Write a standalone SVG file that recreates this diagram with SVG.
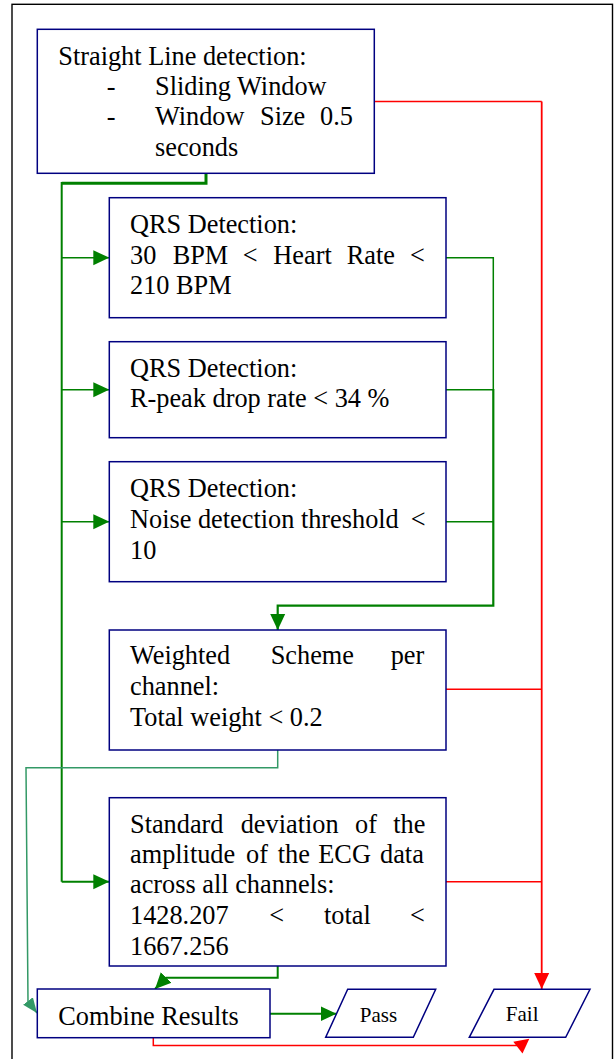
<svg xmlns="http://www.w3.org/2000/svg" width="615" height="1059" viewBox="0 0 615 1059">
  <style>
    .frame { fill: none; stroke: #000; stroke-width: 1.4; }
    .box { fill: #fff; stroke: #000080; stroke-width: 1.5; }
    .t { font-family: "Liberation Serif", "Times New Roman", serif; font-size: 26.3px; fill: #000; }
    .s { font-family: "Liberation Serif", "Times New Roman", serif; font-size: 21px; fill: #000; text-anchor: middle; }
    .g { fill: none; stroke: #008000; }
    .r { fill: none; stroke: #ff0000; }
    .c { fill: none; stroke: #339966; stroke-width: 1.5; }
  </style>
  <defs>
    <marker id="arrowGreen" markerUnits="userSpaceOnUse" viewBox="0 0 16 16" markerWidth="16" markerHeight="16" refX="16" refY="8" orient="auto">
      <path d="M0,0.5 L16,8 L0,15.5 Z" fill="#008000"/>
    </marker>
    <marker id="arrowRed" markerUnits="userSpaceOnUse" viewBox="0 0 16 16" markerWidth="16" markerHeight="16" refX="16" refY="8" orient="auto">
      <path d="M0,0.5 L16,8 L0,15.5 Z" fill="#ff0000"/>
    </marker>
    <marker id="arrowTeal" markerUnits="userSpaceOnUse" viewBox="0 0 16 16" markerWidth="15" markerHeight="15" refX="16" refY="8" orient="auto">
      <path d="M0,1.5 L16,8 L0,14.5 Z" fill="#339966"/>
    </marker>
  </defs>

  <rect width="615" height="1059" fill="#fff"/>
  <!-- outer frame (open at the bottom edge of the page) -->
  <rect class="frame" x="12" y="4.3" width="600.5" height="1100"/>

  <!-- connectors -->
  <g id="connectors">
    <!-- green pass path: straight line check feeds every test -->
    <path class="g" stroke-width="3" d="M206,173.3 V183.3 H61.7"/>
    <path class="g" stroke-width="2" d="M61.7,182 V881.7"/>
    <path class="g" stroke-width="1.5" d="M61.7,257.7 H109.3" marker-end="url(#arrowGreen)"/>
    <path class="g" stroke-width="1.5" d="M61.7,389.7 H109.3" marker-end="url(#arrowGreen)"/>
    <path class="g" stroke-width="1.5" d="M61.7,521.7 H109.3" marker-end="url(#arrowGreen)"/>
    <path class="g" stroke-width="2" d="M61.7,881.7 H109.3" marker-end="url(#arrowGreen)"/>

    <!-- QRS results merge into the weighted scheme -->
    <path class="g" stroke-width="1.5" d="M446,257.7 H493.3 V389.7"/>
    <path class="g" stroke-width="1.5" d="M446,389.7 H493.3"/>
    <path class="g" stroke-width="1.5" d="M446,521.7 H493.3"/>
    <path class="g" stroke-width="2.2" d="M493.3,389 V605.7 H277.7 V630" marker-end="url(#arrowGreen)"/>

    <!-- results into Combine Results -->
    <path class="c" d="M277.7,750 V767.7 H26 L28,1001 L37,1013" marker-end="url(#arrowTeal)"/>
    <path class="g" stroke-width="2" d="M277.7,966 V977.7 H166 L155,989" marker-end="url(#arrowGreen)"/>
    <path class="g" stroke-width="2" d="M270,1013.7 H336.5" marker-end="url(#arrowGreen)"/>

    <!-- red fail path -->
    <path class="r" stroke-width="1.5" d="M374.3,101.4 H541.7"/>
    <path class="r" stroke-width="1.8" d="M541.7,101.4 V989" marker-end="url(#arrowRed)"/>
    <path class="r" stroke-width="1.5" d="M446,689.3 H541.7"/>
    <path class="r" stroke-width="1.5" d="M446,881.7 H541.7"/>
    <path class="r" stroke-width="1.5" d="M153.3,1037.7 V1045.5 H521"/>
    <polygon points="513.3,1041.7 529.3,1038.8 522.5,1053.5" fill="#ff0000"/>
  </g>

  <g id="straight-line">
    <rect class="box" x="37.3" y="29.3" width="337" height="144"/>
    <text class="t" x="58.3" y="65">Straight Line detection:</text>
    <text class="t" x="106.7" y="95">-</text>
    <text class="t" x="155" y="95">Sliding Window</text>
    <text class="t" x="106.7" y="125">-</text>
    <text class="t" y="125"><tspan x="155">Window</tspan><tspan x="260">Size</tspan><tspan x="320">0.5</tspan></text>
    <text class="t" x="155" y="156">seconds</text>
  </g>

  <g id="qrs-heart-rate">
    <rect class="box" x="109.3" y="197.7" width="336.7" height="120"/>
    <text class="t" x="130" y="233.3">QRS Detection:</text>
    <text class="t" y="264.3"><tspan x="130">30</tspan><tspan x="172.7">BPM</tspan><tspan x="242.7">&lt;</tspan><tspan x="273.3">Heart</tspan><tspan x="346.7">Rate</tspan><tspan x="410">&lt;</tspan></text>
    <text class="t" x="130" y="294.3">210 BPM</text>
  </g>

  <g id="qrs-rpeak">
    <rect class="box" x="109.3" y="341.7" width="336.7" height="96"/>
    <text class="t" x="130" y="376.7">QRS Detection:</text>
    <text class="t" x="130" y="407.3">R-peak drop rate &lt; 34 %</text>
  </g>

  <g id="qrs-noise">
    <rect class="box" x="109.3" y="461.7" width="336.7" height="120"/>
    <text class="t" x="130" y="496.7">QRS Detection:</text>
    <text class="t" y="528.3"><tspan x="130">Noise detection threshold</tspan><tspan x="410.7">&lt;</tspan></text>
    <text class="t" x="130" y="559">10</text>
  </g>

  <g id="weighted-scheme">
    <rect class="box" x="109.3" y="630" width="336.7" height="120"/>
    <text class="t" y="664"><tspan x="130">Weighted</tspan><tspan x="270.7">Scheme</tspan><tspan x="390.7">per</tspan></text>
    <text class="t" x="130" y="695">channel:</text>
    <text class="t" x="130" y="726">Total weight &lt; 0.2</text>
  </g>

  <g id="std-deviation">
    <rect class="box" x="109.3" y="797.7" width="336.7" height="168.3"/>
    <text class="t" y="832.7"><tspan x="130">Standard</tspan><tspan x="240.7">deviation</tspan><tspan x="355">of</tspan><tspan x="393.3">the</tspan></text>
    <text class="t" y="863.3"><tspan x="130">amplitude</tspan><tspan x="246">of</tspan><tspan x="277.7">the</tspan><tspan x="318.3">ECG</tspan><tspan x="380">data</tspan></text>
    <text class="t" x="130" y="893.3">across all channels:</text>
    <text class="t" y="924.3"><tspan x="130">1428.207</tspan><tspan x="269.3">&lt;</tspan><tspan x="324">total</tspan><tspan x="410">&lt;</tspan></text>
    <text class="t" x="130" y="955">1667.256</text>
  </g>

  <g id="combine-results">
    <rect class="box" x="37.3" y="989" width="232.7" height="48.7"/>
    <text class="t" x="58.3" y="1025">Combine Results</text>
  </g>

  <g id="pass">
    <polygon class="box" points="347.7,989.3 435.7,989.3 413.3,1037.3 325.7,1037.3"/>
    <text class="s" x="378.5" y="1021.7">Pass</text>
  </g>

  <g id="fail">
    <polygon class="box" points="494,989.3 590,989.3 565.7,1037.3 469.3,1037.3"/>
    <text class="s" x="522.2" y="1020.7">Fail</text>
  </g>
</svg>
